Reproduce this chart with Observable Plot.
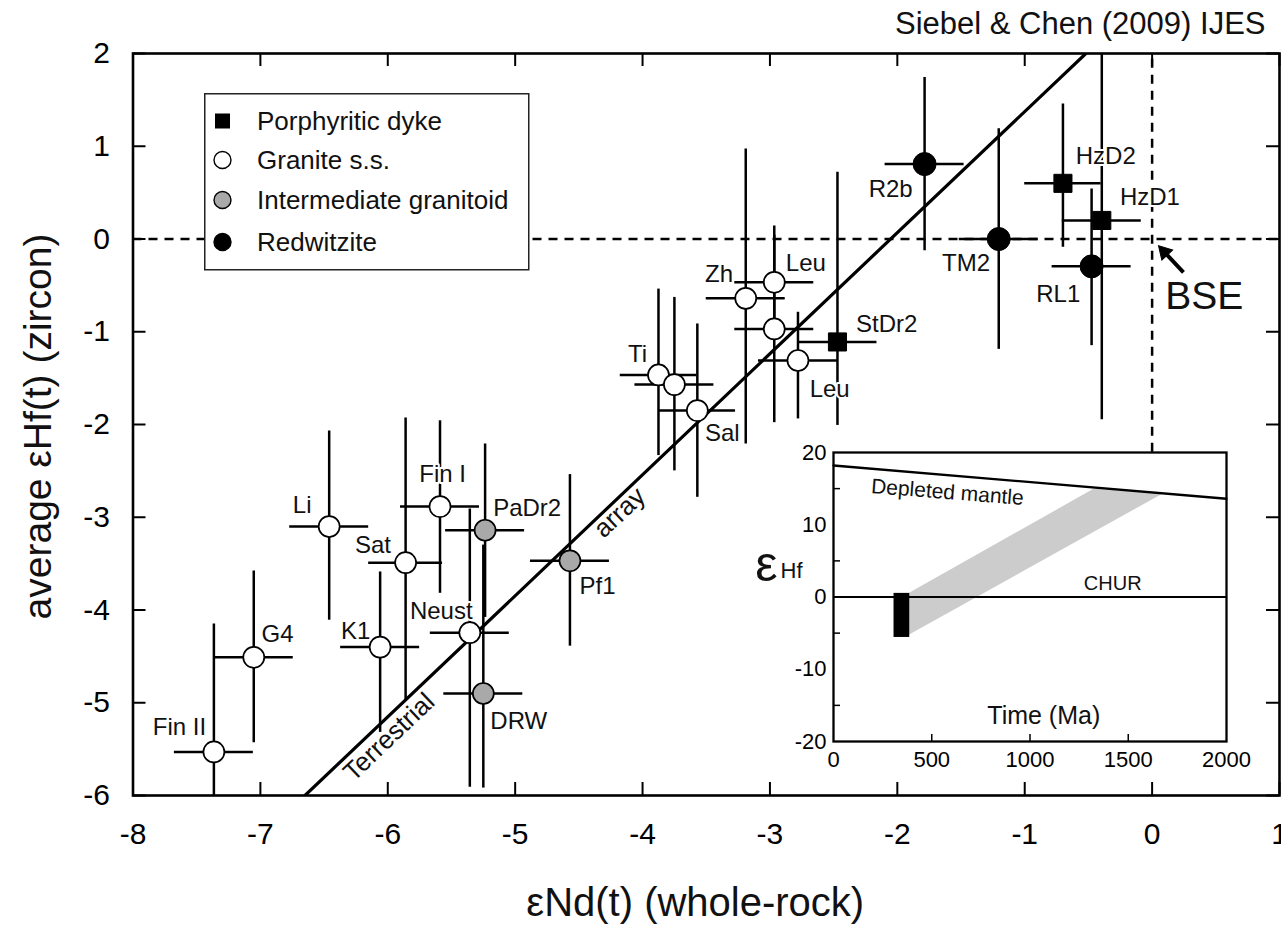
<!DOCTYPE html>
<html><head><meta charset="utf-8">
<script src="https://cdn.jsdelivr.net/npm/d3@7"></script>
<script src="https://cdn.jsdelivr.net/npm/@observablehq/plot@0.6"></script>
<style>
body{margin:0;background:#fff;}
#wrap{position:relative;width:1281px;height:932px;overflow:hidden;font-family:"Liberation Sans",Arial,Helvetica,sans-serif;}
#wrap > svg, #wrap > div{position:absolute;}
</style></head><body><div id="wrap"></div>
<script>
// ---------- main chart data ----------
const groupNames = ["Porphyritic dyke", "Granite s.s.", "Intermediate granitoid", "Redwitzite"];
const sampleGroup = [0,0,0, 1,1,1,1,1,1,1,1,1,1,1,1,1,1, 2,2,2, 3,3,3];
const eNd     = [-0.70,-0.395,-2.47, -7.365,-7.052,-6.46,-5.86,-5.59,-6.06,-5.356,-3.875,-3.75,-3.57,-3.19,-2.966,-2.966,-2.78, -5.236,-5.25,-4.57, -1.786,-1.204,-0.475];
const eHf     = [0.60,0.20,-1.11, -5.53,-4.51,-3.10,-3.49,-2.885,-4.40,-4.245,-1.466,-1.57,-1.85,-0.64,-0.467,-0.97,-1.31, -3.14,-4.90,-3.47, 0.808,0.0,-0.295];
const eNdErr  = [0.30,0.31,0.31, 0.31,0.31,0.31,0.29,0.31,0.31,0.31,0.30,0.31,0.30,0.31,0.31,0.31,0.31, 0.31,0.31,0.31, 0.31,0.31,0.31];
const eHfLow  = [-0.09,-1.95,-2.01, -6.9,-5.43,-4.11,-4.98,-3.82,-5.32,-5.91,-2.335,-2.50,-2.785,-2.21,-1.07,-1.98,-1.94, -4.08,-5.92,-4.39, -0.126,-1.19,-1.15];
const eHfHigh = [1.455,2.35,0.72, -4.15,-3.58,-2.07,-1.93,-1.96,-3.59,-2.91,-0.54,-0.63,-0.916,0.97,0.14,0.04,-0.79, -2.21,-3.30,-2.54, 1.74,1.19,0.54];

const labelText = ["HzD2","HzD1","StDr2","Fin II","G4","Li","Sat","Fin I","K1","Neust","Ti","Sal","Zh","Leu","Leu","PaDr2","DRW","Pf1","R2b","TM2","RL1"];
const labelX = [-0.364,-0.017,-2.083,-7.635,-6.866,-6.672,-6.116,-5.569,-6.252,-5.58,-4.04,-3.374,-3.40,-2.718,-2.531,-4.906,-4.972,-4.353,-2.052,-1.46,-0.737];
const labelY = [0.887,0.448,-0.916,-5.263,-4.264,-2.874,-3.305,-2.54,-4.232,-4.016,-1.24,-2.093,-0.385,-0.266,-1.624,-2.90,-5.20,-3.741,0.531,-0.261,-0.593];

const arrayNd = [-6.65, -0.52];
const arrayHf = [-6, 2];
const arrayLabels = ["Terrestrial", "array"];
const arrayLabelX = [-5.99, -4.18];
const arrayLabelY = [-5.37, -2.95];

const bseX = 0, bseTop = 2, bseBottom = -2.3;
const bseLabel = {x: 0.41, y: -0.62, text: "BSE"};
const bseArrowTail = {x: 0.246, y: -0.36};
const bseArrowHead = {x: 0.096, y: -0.140};

const xTicks = [-8,-7,-6,-5,-4,-3,-2,-1,0,1];
const yTicks = [-6,-5,-4,-3,-2,-1,0,1,2];

// ---------- inset data ----------
const dmTime = [0, 2000], dmEps = [18.2, 13.6];
const bandBaseT = [385, 1680], bandBaseE = [-5.3, 14.3];
const bandTopT  = [385, 1325], bandTopE  = [0.5, 14.9];
const boxT = [308, 388], boxE = [-5.6, 0.5];
const insetXTicks = [0,500,1000,1500,2000];
const insetYTicks = [-20,-10,0,10,20];
const insetMinorY = [15,5,-5,-15];
const insetMinorX = [500,1000,1500];

// ---------- build ----------
const pts = eNd.map((x,i) => ({x, y: eHf[i], xe: eNdErr[i], lo: eHfLow[i], hi: eHfHigh[i], g: sampleGroup[i]}));
const labels = labelText.map((t,i) => ({t, x: labelX[i], y: labelY[i]}));
const arrayLine = arrayNd.map((x,i) => ({x, y: arrayHf[i]}));
const arrayText = arrayLabels.map((t,i) => ({t, x: arrayLabelX[i], y: arrayLabelY[i]}));

const W = 1281, H = 932;
const mL = 132.5, mR = 2, mT = 53, mB = 137;
const innerH = H - mT - mB;
const innerW = W - mL - mR;
const font = '"Liberation Sans", Arial, Helvetica, sans-serif';
const lw = 2.5;

const main = Plot.plot({
  width: W, height: H,
  marginLeft: mL, marginRight: mR, marginTop: mT, marginBottom: mB,
  style: {fontFamily: font, background: "white", color: "black"},
  x: {domain: [-8, 1]},
  y: {domain: [-6, 2]},
  marks: [
    Plot.ruleY([0], {stroke: "black", strokeWidth: lw, strokeDasharray: "9,7"}),
    Plot.ruleX([bseX], {y1: bseBottom, y2: bseTop, stroke: "black", strokeWidth: lw, strokeDasharray: "9,7"}),
    Plot.ruleX(pts, {x: "x", y1: "lo", y2: "hi", stroke: "black", strokeWidth: lw, clip: true}),
    Plot.ruleY(pts, {y: "y", x1: d => d.x - d.xe, x2: d => d.x + d.xe, stroke: "black", strokeWidth: lw, clip: true}),
    Plot.line(arrayLine, {x: "x", y: "y", stroke: "black", strokeWidth: 3.2, clip: true}),
    Plot.dot(pts.filter(d => d.g === 0), {x: "x", y: "y", symbol: "square", r: 10.2, fill: "black", stroke: "black", strokeWidth: 1}),
    Plot.dot(pts.filter(d => d.g === 1), {x: "x", y: "y", r: 10.5, fill: "white", stroke: "black", strokeWidth: 1.7}),
    Plot.dot(pts.filter(d => d.g === 2), {x: "x", y: "y", r: 10.5, fill: "#a9a9a9", stroke: "black", strokeWidth: 1.7}),
    Plot.dot(pts.filter(d => d.g === 3), {x: "x", y: "y", r: 11.5, fill: "black", stroke: "black", strokeWidth: 1}),
    Plot.text(labels, {x: "x", y: "y", text: "t", fontSize: 24, fill: "#111", stroke: "white", strokeWidth: 4, paintOrder: "stroke", textAnchor: "middle", lineAnchor: "middle"}),
    Plot.text(arrayText, {x: "x", y: "y", text: "t", fontSize: 26, fill: "#111", rotate: -43.5, textAnchor: "middle", lineAnchor: "middle"}),
    Plot.text([bseLabel], {x: "x", y: "y", text: "text", fontSize: 39, fill: "#111", textAnchor: "middle", lineAnchor: "middle"}),
    Plot.link([{a: bseArrowTail, b: bseArrowHead}], {x1: d => d.a.x, y1: d => d.a.y, x2: d => d.b.x, y2: d => d.b.y, stroke: "black", strokeWidth: 4}),
    Plot.dot([bseArrowHead], {x: "x", y: "y", symbol: "triangle", r: 5.5, rotate: -43, fill: "black", stroke: "black", strokeWidth: 1}),
    // inward ticks on all four sides
    Plot.tickX(xTicks, {x: d => d, insetTop: innerH - 13, stroke: "black", strokeWidth: 2}),
    Plot.tickX(xTicks, {x: d => d, insetBottom: innerH - 13, stroke: "black", strokeWidth: 2}),
    Plot.tickY(yTicks, {y: d => d, insetRight: innerW - 13, stroke: "black", strokeWidth: 2}),
    Plot.tickY(yTicks, {y: d => d, insetLeft: innerW - 13, stroke: "black", strokeWidth: 2}),
    Plot.axisX({ticks: xTicks, tickSize: 0, tickPadding: 27, fontSize: 30, tickFormat: d => String(d), label: null}),
    Plot.axisY({ticks: yTicks, tickSize: 0, tickPadding: 23, fontSize: 30, tickFormat: d => String(d), label: null}),
    Plot.frame({stroke: "black", strokeWidth: 2.6}),
    Plot.text(["εNd(t) (whole-rock)"], {frameAnchor: "bottom", dx: -11, dy: 108, fontSize: 40, textAnchor: "middle", lineAnchor: "middle", fill: "#111"}),
    Plot.text(["average εHf(t) (zircon)"], {frameAnchor: "left", dx: -94.5, dy: 2, rotate: -90, fontSize: 39, textAnchor: "middle", lineAnchor: "middle", fill: "#111"}),
    Plot.text(["Siebel & Chen (2009) IJES"], {frameAnchor: "top-right", dx: -14, dy: -29, fontSize: 31, textAnchor: "end", lineAnchor: "middle", fill: "#111"})
  ]
});
main.style.left = "0px"; main.style.top = "0px";
document.getElementById("wrap").appendChild(main);

// ---------- inset ----------
const iW = 500, iH = 345, iL = 60, iT = 12, iR = 47, iB = 44;
const iInnerW = iW - iL - iR, iInnerH = iH - iT - iB;
const band = [{bx: bandBaseT[0], by: bandBaseE[0], tx: bandTopT[0], ty: bandTopE[0]},
              {bx: bandBaseT[1], by: bandBaseE[1], tx: bandTopT[1], ty: bandTopE[1]}];
const inset = Plot.plot({
  width: iW, height: iH,
  marginLeft: iL, marginRight: iR, marginTop: iT, marginBottom: iB,
  style: {fontFamily: font, background: "transparent", color: "black", overflow: "visible"},
  x: {domain: [0, 2000]},
  y: {domain: [-20, 20]},
  marks: [
    Plot.frame({fill: "white", stroke: null}),
    Plot.area(band, {x1: "bx", y1: "by", x2: "tx", y2: "ty", fill: "#cccccc", curve: "linear"}),
    Plot.line(dmTime.map((t,i) => ({t, e: dmEps[i]})), {x: "t", y: "e", stroke: "black", strokeWidth: 2.3}),
    Plot.ruleY([0], {stroke: "black", strokeWidth: 2.1}),
    Plot.rect([{x1: boxT[0], x2: boxT[1], y1: boxE[0], y2: boxE[1]}], {x1: "x1", x2: "x2", y1: "y1", y2: "y2", fill: "black"}),
    Plot.text(["Depleted mantle"], {x: 580, y: 14.5, fontSize: 21, rotate: 4.5, textAnchor: "middle", lineAnchor: "middle", fill: "#111"}),
    Plot.text(["CHUR"], {x: 1421, y: 1.9, fontSize: 20, textAnchor: "middle", lineAnchor: "middle", fill: "#111"}),
    Plot.text(["Time (Ma)"], {x: 1070, y: -16.5, fontSize: 25, textAnchor: "middle", lineAnchor: "middle", fill: "#111"}),
    Plot.text(["ε"], {frameAnchor: "left", dx: -67, dy: -32, fontSize: 50, textAnchor: "middle", lineAnchor: "middle", fill: "#111"}),
    Plot.text(["Hf"], {frameAnchor: "left", dx: -53, dy: -19.5, fontSize: 22, textAnchor: "start", lineAnchor: "bottom", fill: "#111"}),
    Plot.tickY(insetMinorY, {y: d => d, insetRight: iInnerW - 7, stroke: "black", strokeWidth: 1.5}),
    Plot.tickX(insetMinorX, {x: d => d, insetTop: iInnerH - 7, stroke: "black", strokeWidth: 1.5}),
    Plot.axisX({ticks: insetXTicks, tickSize: 0, tickPadding: 10, fontSize: 22, tickFormat: d => String(d), label: null}),
    Plot.axisY({ticks: insetYTicks, tickSize: 0, tickPadding: 7, fontSize: 22, tickFormat: d => String(d), label: null}),
    Plot.frame({stroke: "black", strokeWidth: 2.3})
  ]
});
inset.style.left = (832.7 - iL) + "px"; inset.style.top = (452 - iT) + "px";
document.getElementById("wrap").appendChild(inset);

// ---------- legend ----------
const legendSymbols = ["square", "circle", "circle", "circle"];
const legendFills = ["black", "white", "#a9a9a9", "black"];
const legendRowY = [28, 67, 107, 149];
const ns = "http://www.w3.org/2000/svg";
const lg = document.createElementNS(ns, "svg");
lg.setAttribute("width", 326); lg.setAttribute("height", 178);
lg.style.left = "204px"; lg.style.top = "92.5px";
lg.innerHTML = `<rect x="0.75" y="0.75" width="324" height="176" fill="white" stroke="#222" stroke-width="1.5"/>` +
  groupNames.map((g,i) => {
    const cy = legendRowY[i];
    const sym = legendSymbols[i] === "square"
      ? `<rect x="${18.5-7.5}" y="${cy-7.5}" width="15" height="15" fill="black"/>`
      : `<circle cx="18.5" cy="${cy}" r="8.5" fill="${legendFills[i]}" stroke="black" stroke-width="1.4"/>`;
    return sym + `<text x="53" y="${cy}" dy="0.35em" font-size="26" fill="#111" font-family='${font}'>${g}</text>`;
  }).join("");
document.getElementById("wrap").appendChild(lg);
</script>
</body></html>
